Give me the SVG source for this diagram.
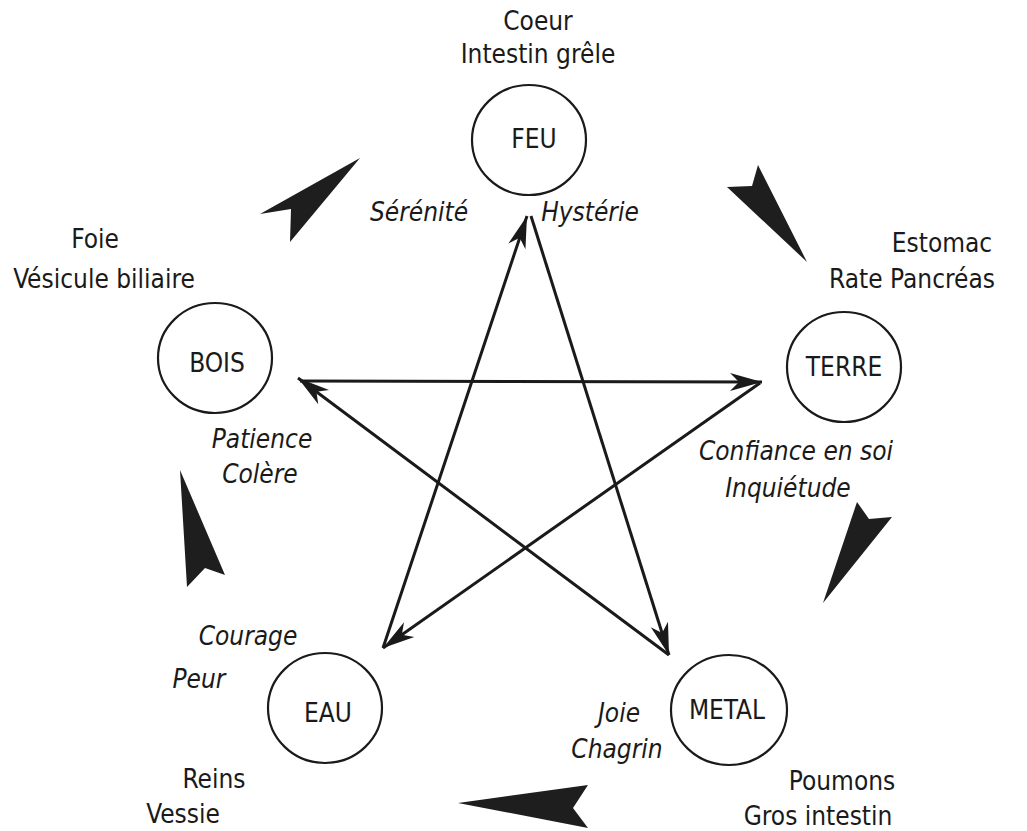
<svg xmlns="http://www.w3.org/2000/svg" width="1027" height="831" viewBox="0 0 1027 831">
<defs>
<style>
.t{font-family:"DejaVu Sans Condensed","DejaVu Sans","Liberation Sans",sans-serif;font-stretch:condensed;font-size:26px;fill:#1a1a1a;text-anchor:middle}
.i{font-family:"DejaVu Sans Condensed","DejaVu Sans","Liberation Sans",sans-serif;font-stretch:condensed;font-size:26px;font-style:italic;fill:#1a1a1a;text-anchor:middle}
.c{fill:none;stroke:#1a1a1a;stroke-width:2.2}
.l{stroke:#1a1a1a;stroke-width:3;fill:none}
.d{fill:#1e1e1e}
</style>
<marker id="ah" viewBox="-34 -12 36 24" refX="0" refY="0" markerWidth="36" markerHeight="24" markerUnits="userSpaceOnUse" orient="auto">
<path d="M0,0 L-32,-9 L-23,0 L-32,9 Z" fill="#1a1a1a"/>
</marker>
</defs>
<rect width="1027" height="831" fill="#ffffff"/>

<g id="connectors">
<line class="l" x1="300" y1="381" x2="762" y2="382" marker-end="url(#ah)"/>
<line class="l" x1="760" y1="383" x2="383" y2="648" marker-end="url(#ah)"/>
<line class="l" x1="383" y1="648" x2="527" y2="216" marker-end="url(#ah)"/>
<line class="l" x1="531" y1="216" x2="669" y2="655" marker-end="url(#ah)"/>
<line class="l" x1="669" y1="655" x2="298" y2="378" marker-end="url(#ah)"/>
</g>

<g id="cycle-arrows">
<polygon class="d" points="360,158 260,214 291,209 290,242"/>
<polygon class="d" points="807,262 758,165 752,186 727,187"/>
<polygon class="d" points="823,603 857,502 869,519 892,517"/>
<polygon class="d" points="458,803 588,785 573,808 588,828"/>
<polygon class="d" points="180,470 225,575 205,568 187,587"/>
</g>

<g id="feu">
<ellipse class="c" cx="529" cy="140" rx="57" ry="55"/>
<text class="t" x="534" y="148">FEU</text>
<text class="t" x="538" y="30">Coeur</text>
<text class="t" x="538" y="63">Intestin grêle</text>
<text class="i" x="419" y="221">Sérénité</text>
<text class="i" x="590" y="221">Hystérie</text>
</g>

<g id="bois">
<ellipse class="c" cx="215" cy="358" rx="57" ry="55"/>
<text class="t" x="217" y="372">BOIS</text>
<text class="t" x="95" y="248">Foie</text>
<text class="t" x="104" y="288">Vésicule biliaire</text>
<text class="i" x="262" y="448">Patience</text>
<text class="i" x="260" y="483">Colère</text>
</g>

<g id="terre">
<ellipse class="c" cx="844" cy="367" rx="57" ry="55"/>
<text class="t" x="844" y="376">TERRE</text>
<text class="t" x="942" y="252">Estomac</text>
<text class="t" x="912" y="288">Rate Pancréas</text>
<text class="i" x="796" y="460">Confiance en soi</text>
<text class="i" x="788" y="497">Inquiétude</text>
</g>

<g id="eau">
<ellipse class="c" cx="325" cy="708" rx="57" ry="55"/>
<text class="t" x="328" y="722">EAU</text>
<text class="t" x="214" y="788">Reins</text>
<text class="t" x="183" y="823">Vessie</text>
<text class="i" x="248" y="645">Courage</text>
<text class="i" x="199" y="688">Peur</text>
</g>

<g id="metal">
<ellipse class="c" cx="729" cy="710" rx="58" ry="55"/>
<text class="t" x="727" y="719">METAL</text>
<text class="t" x="842" y="790">Poumons</text>
<text class="t" x="818" y="825">Gros intestin</text>
<text class="i" x="619" y="722">Joie</text>
<text class="i" x="617" y="758">Chagrin</text>
</g>
</svg>
